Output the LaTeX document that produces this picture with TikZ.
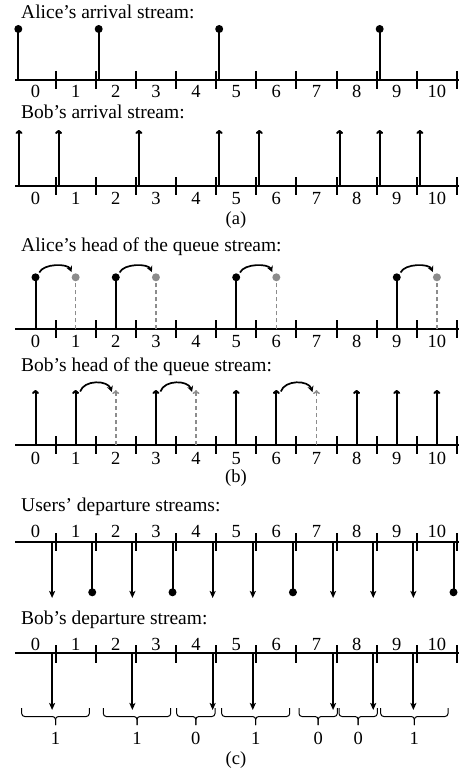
\documentclass[tikz,border=0pt]{standalone}
\usepackage{fontspec}
\setmainfont{Liberation Serif}
\usetikzlibrary{arrows.meta}
\begin{document}
\begin{tikzpicture}[x=1pt,y=-1pt,
  txt/.style={inner sep=0,anchor=base west,font=\fontsize{19.5}{22}\selectfont},
  num/.style={inner sep=0,anchor=base,font=\fontsize{18.5}{22}\selectfont},
  axisline/.style={line width=2pt},
  tickmark/.style={line width=2pt},
  stem/.style={line width=2pt},
  dot/.style={circle,fill=black,inner sep=0,minimum size=8pt},
  gdot/.style={circle,fill=black!45,inner sep=0,minimum size=8pt},
  gstem/.style={line width=1.5pt,black!45,dash pattern=on 4pt off 3pt},
  uparrow/.style={line width=2pt,-{To[length=4pt,width=7pt]}},
  guparrow/.style={gstem,-{To[length=4pt,width=7pt]}},
  downarrow/.style={line width=2pt,-{Stealth[length=7pt,width=6pt,inset=1.5pt]}},
  harc/.style={line width=1.7pt,-{Stealth[length=6pt,width=6pt]}},
  bracepath/.style={line width=1pt,rounded corners=3pt}
]
\path[use as bounding box] (0,0) rectangle (459,773);

% ---------- (a) ----------
\node[txt] (tA) at (21,18.5) {Alice’s arrival stream:};
\draw[axisline] (15,80) -- (459,80);
\foreach \k in {0,...,10} \draw[tickmark] ({55.6+40.14*\k},71) -- ({55.6+40.14*\k},89);
\foreach \i in {0,...,10} \node[num] (na\i) at ({35.5+40.14*\i},97.3) {\i};
\foreach \x [count=\n] in {18.3,98.7,219.2,379.7} {
  \coordinate (aa\n) at (\x,80);
  \node[dot] (ad\n) at (\x,29) {};
  \draw[stem] (aa\n) -- (ad\n.center);
}

\node[txt] (tB) at (21,119) {Bob’s arrival stream:};
\draw[axisline] (15,186) -- (459,186);
\foreach \k in {0,...,10} \draw[tickmark] ({55.6+40.14*\k},177) -- ({55.6+40.14*\k},195);
\foreach \i in {0,...,10} \node[num] (nb\i) at ({35.5+40.14*\i},204) {\i};
\foreach \x [count=\n] in {19,58.6,138.9,219.2,259.3,339.6,379.7,419.9} {
  \coordinate (ba\n) at (\x,186);
  \coordinate (bt\n) at (\x,130);
  \draw[uparrow] (ba\n) -- (bt\n);
}
\node[num] (capa) at (236,224) {(a)};

% ---------- (b) ----------
\node[txt] (tC) at (21,251.7) {Alice’s head of the queue stream:};
\draw[axisline] (15,329.3) -- (459,329.3);
\foreach \k in {0,...,10} \draw[tickmark] ({55.6+40.14*\k},320) -- ({55.6+40.14*\k},338);
\foreach \i in {0,...,10} \node[num] (nc\i) at ({35.5+40.14*\i},347.3) {\i};
\foreach \i in {0,2,5,9} {
  \node[dot] (hd\i) at ({35.5+40.14*\i},277.3) {};
  \draw[stem] ({35.5+40.14*\i},329.3) -- (hd\i.center);
}
\foreach \i in {1,3,6,10} {
  \node[gdot] (hg\i) at ({35.5+40.14*\i},277.3) {};
  \draw[gstem] ({35.5+40.14*\i},329.3) -- (hg\i.center);
}
\foreach \a/\b in {0/1,2/3,5/6,9/10}
  \draw[harc,shorten <=2pt,shorten >=2.5pt] (hd\a.north east) .. controls +(5,-11) and +(-5,-11) .. (hg\b.north west);

\node[txt] (tD) at (21,371) {Bob’s head of the queue stream:};
\draw[axisline] (15,445) -- (459,445);
\foreach \k in {0,...,10} \draw[tickmark] ({55.6+40.14*\k},436) -- ({55.6+40.14*\k},454);
\foreach \i in {0,...,10} \node[num] (nd\i) at ({35.5+40.14*\i},464) {\i};
\foreach \i in {0,1,3,5,6,8,9,10} {
  \coordinate (qb\i) at ({35.5+40.14*\i},445);
  \coordinate (qt\i) at ({35.5+40.14*\i},390);
  \draw[uparrow] (qb\i) -- (qt\i);
}
\foreach \i in {2,4,7} {
  \coordinate (qb\i) at ({35.5+40.14*\i},445);
  \coordinate (qt\i) at ({35.5+40.14*\i},390);
  \draw[guparrow] (qb\i) -- (qt\i);
}
\foreach \a/\b in {1/2,3/4,6/7}
  \draw[harc] ([xshift=4.5pt,yshift=-1.5pt]qt\a) .. controls +(4,-12) and +(-4,-12) .. ([xshift=-4pt,yshift=-2pt]qt\b);
\node[num] (capb) at (236,482.7) {(b)};

% ---------- (c) ----------
\node[txt] (tE) at (21,511.7) {Users’ departure streams:};
\draw[axisline] (15,541.7) -- (459,541.7);
\foreach \k in {0,...,10} \draw[tickmark] ({55.6+40.14*\k},533) -- ({55.6+40.14*\k},551);
\foreach \i in {0,...,10} \node[num] (ne\i) at ({35.5+40.14*\i},537) {\i};
\foreach \k in {0,2,4,5,7,8,9} {
  \coordinate (ub\k) at ({52.1+40.14*\k},541.7);
  \coordinate (ut\k) at ({52.1+40.14*\k},598);
  \draw[downarrow] (ub\k) -- (ut\k);
}
\foreach \k in {1,3,6,10} {
  \node[dot] (ud\k) at ({52.1+40.14*\k},592.3) {};
  \draw[stem] ({52.1+40.14*\k},541.7) -- (ud\k.center);
}

\node[txt] (tF) at (21,624.3) {Bob’s departure stream:};
\draw[axisline] (15,653.3) -- (459,653.3);
\foreach \k in {0,...,10} \draw[tickmark] ({55.6+40.14*\k},645) -- ({55.6+40.14*\k},663);
\foreach \i in {0,...,10} \node[num] (nf\i) at ({35.5+40.14*\i},650) {\i};
\foreach \k in {0,2,4,5,7,8,9} {
  \coordinate (fb\k) at ({52.1+40.14*\k},653.3);
  \coordinate (ft\k) at ({52.1+40.14*\k},710);
  \draw[downarrow] (fb\k) -- (ft\k);
}
\foreach \l/\r/\v [count=\n] in {21.7/89.3/1,103.3/170.7/1,176.7/215/0,221.7/289.7/1,299/337.3/0,339/377.3/0,380.7/448/1} {
  \coordinate (bc\n) at ({(\l+\r)/2},716.5);
  \coordinate (bt\n) at ({(\l+\r)/2},725);
  \draw[bracepath] (\l,708) |- (bc\n) -- (bt\n);
  \draw[bracepath] (\r,708) |- (bc\n) -- (bt\n);
  \node[num] (bl\n) at ({(\l+\r)/2},744) {\v};
}
\node[num] (capc) at (236,764) {(c)};
\end{tikzpicture}
\end{document}
